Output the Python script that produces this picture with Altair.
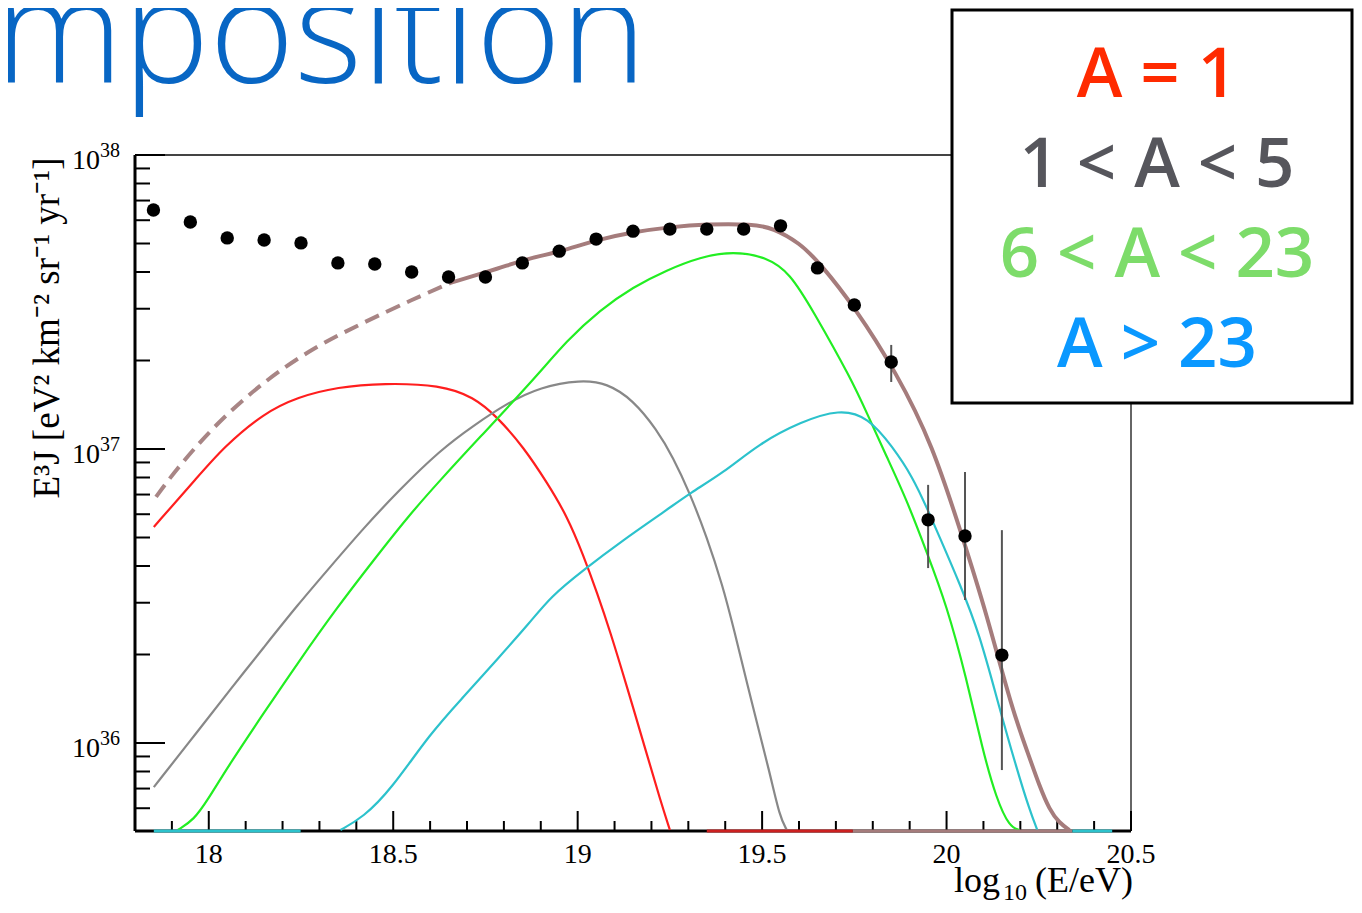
import altair as alt
import pandas as pd

W, H = 996, 676
XMIN, XMAX = 17.8, 20.5
YMIN, YMAX = 5.02e35, 1e38

# ---- measured data (x = log10(E/eV), values given as log10 of E^3 J) ----
pt_x = [17.85, 17.95, 18.05, 18.15, 18.25, 18.35, 18.45, 18.55, 18.65, 18.75, 18.85, 18.95,
        19.05, 19.15, 19.25, 19.35, 19.45, 19.55, 19.65, 19.75, 19.85, 19.95, 20.05, 20.15]
pt_lg = [37.813, 37.772, 37.718, 37.711, 37.701, 37.633, 37.629, 37.602, 37.585, 37.585, 37.633, 37.673,
         37.714, 37.741, 37.748, 37.748, 37.748, 37.759, 37.616, 37.490, 37.296, 36.759, 36.704, 36.299]
err_x = [19.85, 19.95, 20.05, 20.15]
err_lo = [37.228, 36.595, 36.486, 35.908]
err_hi = [37.354, 36.878, 36.922, 36.724]

# ---- model components ----
red_x = [17.851, 17.970, 18.041, 18.149, 18.241, 18.349, 18.474, 18.628, 18.718, 18.782, 18.853,
         18.918, 18.972, 19.015, 19.053, 19.088, 19.134, 19.188, 19.223, 19.250]
red_lg = [36.735, 36.905, 37.007, 37.122, 37.177, 37.211, 37.224, 37.218, 37.177, 37.109, 37.007,
          36.884, 36.770, 36.640, 36.510, 36.380, 36.190, 35.960, 35.810, 35.704]

gray_x = [17.851, 17.970, 18.060, 18.149, 18.241, 18.330, 18.419, 18.512, 18.628, 18.718, 18.809,
          18.899, 19.007, 19.080, 19.150, 19.215, 19.258, 19.304, 19.350, 19.394, 19.421, 19.475,
          19.521, 19.548, 19.567]
gray_lg = [35.850, 36.040, 36.185, 36.325, 36.470, 36.600, 36.730, 36.855, 36.997, 37.080, 37.156,
           37.211, 37.235, 37.224, 37.167, 37.065, 36.973, 36.850, 36.701, 36.531, 36.400, 36.122,
           35.898, 35.748, 35.704]

green_x = [17.916, 17.959, 17.997, 18.051, 18.149, 18.241, 18.349, 18.447, 18.539, 18.628, 18.728,
           18.880, 18.972, 19.061, 19.150, 19.242, 19.332, 19.421, 19.513, 19.575, 19.637, 19.743,
           19.784, 19.838, 19.892, 19.946, 20.000, 20.054, 20.097, 20.135, 20.171, 20.198]
green_lg = [35.704, 35.738, 35.806, 35.918, 36.102, 36.272, 36.463, 36.622, 36.769, 36.895, 37.031,
            37.235, 37.371, 37.473, 37.551, 37.609, 37.653, 37.673, 37.653, 37.599, 37.473, 37.235,
            37.122, 36.973, 36.827, 36.650, 36.470, 36.220, 35.980, 35.810, 35.714, 35.704]

cyan_x = [18.357, 18.419, 18.493, 18.601, 18.690, 18.782, 18.871, 18.926, 19.015, 19.123, 19.242,
          19.304, 19.394, 19.494, 19.604, 19.710, 19.787, 19.854, 19.908, 19.949, 19.981, 20.035,
          20.089, 20.143, 20.189, 20.225, 20.246]
cyan_lg = [35.704, 35.748, 35.840, 36.034, 36.156, 36.285, 36.410, 36.497, 36.588, 36.690, 36.793,
           36.850, 36.918, 37.020, 37.092, 37.136, 37.109, 37.007, 36.905, 36.793, 36.701, 36.544,
           36.374, 36.120, 35.918, 35.772, 35.704]

tot_dash_x = [17.857, 17.905, 18.014, 18.149, 18.284, 18.419, 18.555, 18.655]
tot_dash_lg = [36.837, 36.920, 37.080, 37.230, 37.345, 37.430, 37.510, 37.565]
tot_x = [18.655, 18.790, 18.871, 18.950, 19.050, 19.150, 19.250, 19.350, 19.475, 19.529, 19.602,
         19.656, 19.751, 19.864, 19.962, 20.043, 20.108, 20.178, 20.225, 20.250, 20.279, 20.306, 20.333]
tot_lg = [37.565, 37.616, 37.650, 37.670, 37.711, 37.738, 37.755, 37.765, 37.765, 37.752, 37.701,
          37.633, 37.483, 37.260, 37.015, 36.701, 36.442, 36.112, 35.950, 35.860, 35.772, 35.728, 35.704]

# curve pieces lying on the lower edge of the frame (x start, x end)
floor_cyan_a = [17.851, 18.249]
floor_red = [19.350, 19.746]
floor_brown = [19.746, 20.341]
floor_cyan_b = [20.341, 20.449]

# axis ticks and labels
x_major = [18.0, 18.5, 19.0, 19.5, 20.0, 20.5]
x_major_lbl = ["18", "18.5", "19", "19.5", "20", "20.5"]
x_minor = [17.9, 18.1, 18.2, 18.3, 18.4, 18.6, 18.7, 18.8, 18.9, 19.1, 19.2, 19.3, 19.4,
           19.6, 19.7, 19.8, 19.9, 20.1, 20.2, 20.3, 20.4]
y_major = [1e36, 1e37, 1e38]
y_major_exp = ["36", "37", "38"]
y_minor = [6e35, 7e35, 8e35, 9e35, 2e36, 3e36, 4e36, 5e36, 6e36, 7e36, 8e36, 9e36,
           2e37, 3e37, 4e37, 5e37, 6e37, 7e37, 8e37, 9e37]

legend_labels = ["A = 1", "1 < A < 5", "6 < A < 23", "A > 23"]
legend_colors = ["#ff2a00", "#56565c", "#7ddc6a", "#0a98ff"]
title_text = "mposition"

# ---- build ----
xsc = alt.Scale(domain=[XMIN, XMAX], nice=False, zero=False)
ysc = alt.Scale(type="log", domain=[YMIN, YMAX], nice=False)
X = alt.X("x:Q", scale=xsc, axis=None)
Y = alt.Y("y:Q", scale=ysc, axis=None)


def curve(xs, lgs):
    return pd.DataFrame({"x": xs, "y": [10 ** v for v in lgs]})


def floor(seg):
    return pd.DataFrame({"x": seg, "y": [YMIN, YMIN]})


SERIF = "Liberation Serif"
layers = []

# frame
one = pd.DataFrame({"a": [0]})
layers.append(alt.Chart(one).mark_rule(color="#444", strokeWidth=2).encode(
    x=alt.value(0), x2=alt.value(W), y=alt.value(0)))
layers.append(alt.Chart(one).mark_rule(color="#666", strokeWidth=2).encode(
    x=alt.value(W), y=alt.value(0), y2=alt.value(H)))
layers.append(alt.Chart(one).mark_rule(color="black", strokeWidth=3).encode(
    x=alt.value(0), y=alt.value(0), y2=alt.value(H)))
layers.append(alt.Chart(one).mark_rule(color="black", strokeWidth=3).encode(
    x=alt.value(0), x2=alt.value(W), y=alt.value(H)))

# ticks
layers.append(alt.Chart(pd.DataFrame({"y": y_major})).mark_rule(color="black", strokeWidth=2).encode(
    y=Y, x=alt.value(0), x2=alt.value(30)))
layers.append(alt.Chart(pd.DataFrame({"y": y_minor})).mark_rule(color="black", strokeWidth=2).encode(
    y=Y, x=alt.value(0), x2=alt.value(15)))
layers.append(alt.Chart(pd.DataFrame({"x": x_major})).mark_rule(color="black", strokeWidth=2).encode(
    x=X, y=alt.value(H), y2=alt.value(H - 20)))
layers.append(alt.Chart(pd.DataFrame({"x": x_minor})).mark_rule(color="black", strokeWidth=2).encode(
    x=X, y=alt.value(H), y2=alt.value(H - 10)))

# component curves
for xs, lgs, col in [(red_x, red_lg, "#ff1e1e"), (gray_x, gray_lg, "#888888"),
                     (green_x, green_lg, "#22ee22"), (cyan_x, cyan_lg, "#2cc2cc")]:
    layers.append(alt.Chart(curve(xs, lgs)).mark_line(
        color=col, strokeWidth=2.2, clip=True, interpolate="basis").encode(X, Y))

# total
layers.append(alt.Chart(curve(tot_dash_x, tot_dash_lg)).mark_line(
    color="#a88585", strokeWidth=4, strokeDash=[15, 8], clip=True, interpolate="basis").encode(X, Y))
layers.append(alt.Chart(curve(tot_x, tot_lg)).mark_line(
    color="#a57c7c", strokeWidth=4, clip=True, interpolate="basis").encode(X, Y))

# segments along the lower frame
for seg, col in [(floor_cyan_a, "#2cc2cc"), (floor_red, "#cc2020"),
                 (floor_brown, "#a57c7c"), (floor_cyan_b, "#2cc2cc")]:
    layers.append(alt.Chart(floor(seg)).mark_line(color=col, strokeWidth=3).encode(X, Y))

# error bars & points
edf = pd.DataFrame({"x": err_x, "lo": [10 ** v for v in err_lo], "hi": [10 ** v for v in err_hi]})
layers.append(alt.Chart(edf).mark_rule(color="#555", strokeWidth=2).encode(
    x=X, y=alt.Y("lo:Q", scale=ysc, axis=None), y2="hi:Q"))
layers.append(alt.Chart(curve(pt_x, pt_lg)).mark_circle(size=180, color="black", opacity=1).encode(X, Y))

# x tick labels
layers.append(alt.Chart(pd.DataFrame({"x": x_major, "t": x_major_lbl})).mark_text(
    font=SERIF, fontSize=28, color="black", align="center", baseline="alphabetic").encode(
    x=X, y=alt.value(H + 32), text="t:N"))

# y tick labels 10^n
ylab = pd.DataFrame({"y": y_major, "e": y_major_exp, "b": ["10"] * len(y_major)})
layers.append(alt.Chart(ylab).mark_text(
    font=SERIF, fontSize=28, color="black", align="right", baseline="alphabetic", dy=14).encode(
    y=Y, x=alt.value(-35), text="b:N"))
layers.append(alt.Chart(ylab).mark_text(
    font=SERIF, fontSize=20, color="black", align="left", baseline="alphabetic", dy=2).encode(
    y=Y, x=alt.value(-35), text="e:N"))

# axis titles
layers.append(alt.Chart(one).mark_text(
    font=SERIF, fontSize=37, color="black", angle=270, align="center", baseline="middle").encode(
    x=alt.value(-87), y=alt.value(173), text=alt.value("E³J [eV² km⁻² sr⁻¹ yr⁻¹]")))
layers.append(alt.Chart(one).mark_text(
    font=SERIF, fontSize=36, color="black", align="right", baseline="alphabetic").encode(
    x=alt.value(998), y=alt.value(737), text=alt.value("(E/eV)")))
layers.append(alt.Chart(one).mark_text(
    font=SERIF, fontSize=24, color="black", align="right", baseline="alphabetic").encode(
    x=alt.value(892), y=alt.value(745), text=alt.value("10")))
layers.append(alt.Chart(one).mark_text(
    font=SERIF, fontSize=36, color="black", align="right", baseline="alphabetic").encode(
    x=alt.value(865), y=alt.value(737), text=alt.value("log")))

# legend box
layers.append(alt.Chart(one).mark_rect(fill="white", stroke="black", strokeWidth=3).encode(
    x=alt.value(817), x2=alt.value(1217), y=alt.value(-145), y2=alt.value(248)))
for i, (lab, col) in enumerate(zip(legend_labels, legend_colors)):
    layers.append(alt.Chart(one).mark_text(
        font="Open Sans", fontSize=69, fontWeight=600, color=col, align="center",
        baseline="alphabetic").encode(
        x=alt.value(1022), y=alt.value([-58, 32, 122, 212][i]), text=alt.value(lab)))

# slide title fragment
layers.append(alt.Chart(one).mark_text(
    font="Open Sans", fontSize=145, fontWeight=300, color="#0866c4", align="left",
    baseline="alphabetic").encode(
    x=alt.value(-140), y=alt.value(-72), text=alt.value(title_text)))

chart = alt.layer(*layers).properties(
    width=W, height=H,
    autosize=alt.AutoSizeParams(type="none"),
    padding={"left": 127, "top": 147, "right": 223, "bottom": 74},
    background="white",
).configure_view(strokeWidth=0)

chart.save("out.html", embed_options={"renderer": "svg", "actions": False})
